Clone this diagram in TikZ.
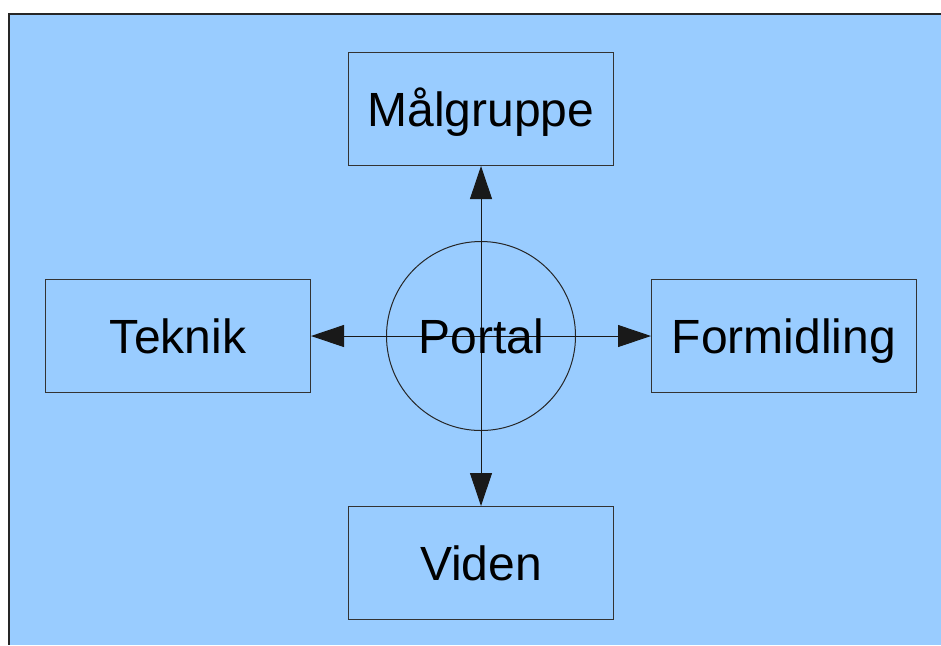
\documentclass[tikz,border=0pt]{standalone}
\usepackage{fontspec}
\setmainfont{Liberation Sans}
\usepackage{xcolor}
\usetikzlibrary{arrows.meta, positioning}

\definecolor{skyblue}{RGB}{153,204,255}

\begin{document}
\begin{tikzpicture}[
    x=0.5pt, y=-0.5pt,
    node distance=37.5pt,
    box/.style={draw=black!80, line width=0.5pt, minimum width=132.5pt, minimum height=56.5pt, inner sep=0pt, text height=17.5pt, text depth=0pt, align=center, font=\fontsize{24}{28}\selectfont},
    hub/.style={draw=black!85, circle, line width=0.5pt, minimum size=94.5pt, inner sep=0pt},
    arrow/.style={-{Triangle[length=16.5pt, width=11pt]}, line width=0.5pt, draw=black!90, fill=black}
]
    \useasboundingbox (0,0) rectangle (941,645);
    % page background with its top and left edge
    \fill[skyblue] (9,14) rectangle (941,645);
    \draw[black!85, line width=0.8pt] (941,14) -- (9,14) -- (9,645);

    \node[hub] (portal) at (481,336) {};
    \node[box, above=of portal] (maal) {Målgruppe};
    \node[box, left=of portal] (teknik) {Teknik};
    \node[box, right=of portal] (formidling) {Formidling};
    \node[box, below=of portal] (viden) {Viden};

    \draw[arrow] (portal.center) -- (maal);
    \draw[arrow] (portal.center) -- (teknik);
    \draw[arrow] (portal.center) -- (formidling);
    \draw[arrow] (portal.center) -- (viden);

    \node[font=\fontsize{24}{28}\selectfont, text height=17.5pt, text depth=0pt, inner sep=0pt] at (portal) {Portal};
\end{tikzpicture}
\end{document}
